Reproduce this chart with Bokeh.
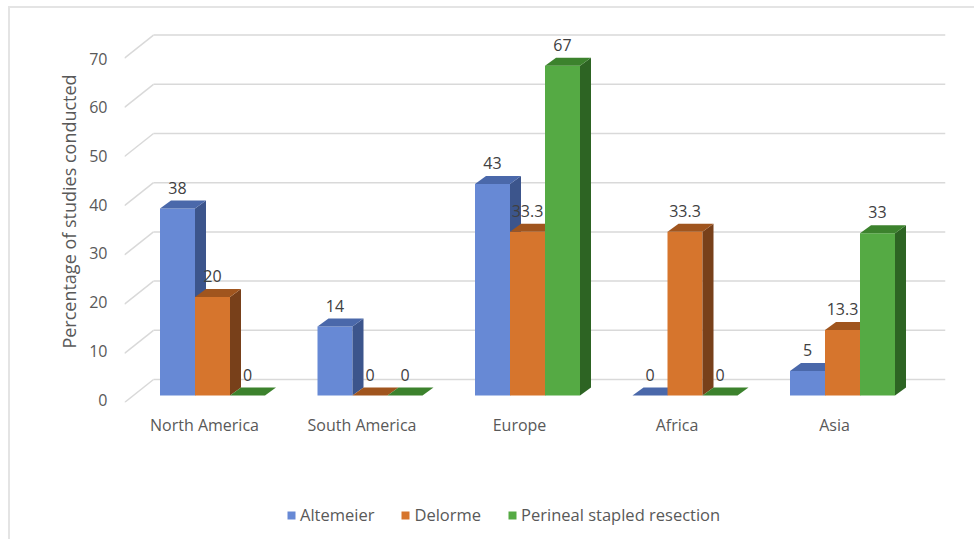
from bokeh.plotting import figure
from bokeh.layouts import column
from bokeh.models import (ColumnDataSource, Range1d, LinearAxis, FixedTicker,
                          Legend, LegendItem)
from bokeh.embed import file_html
from bokeh.resources import INLINE
from bokeh.core.properties import value

# ---------------- data ----------------
regions = ["North America", "South America", "Europe", "Africa", "Asia"]
methods = ["Altemeier", "Delorme", "Perineal stapled resection"]
altemeier = [38, 14, 43, 0, 5]
delorme = [20, 0, 33.3, 33.3, 13.3]
perineal = [0, 0, 67, 0, 33]
y_ticks = [0, 10, 20, 30, 40, 50, 60, 70]
y_title = "Percentage of studies conducted"

# ---------------- style / geometry ----------------
FONT = "Open Sans"
FS = "16px"
LEG_FS = "16.5px"
TITLE_FS = "18px"
TEXT_COLOR = "#595959"
LABEL_COLOR = "#404040"
GRID_COLOR = "#d9d9d9"
BORDER = "2px solid #e4e4e4"
front_colors = ["#6789d5", "#d6752d", "#55aa44"]
top_colors = ["#4a68aa", "#a0551e", "#3c822d"]
side_colors = ["#3c558c", "#78401a", "#2d6423"]

PAGE_W, PAGE_H = 976, 541
CX, CY = 10, 8                 # canvas origin inside the page
W = PAGE_W - CX
LEG_TOP = 462                  # page y where the legend strip starts
FRAME_L, FRAME_R, FRAME_T, FRAME_B = 124, 945, 20, 402   # page px
CAT0_PX, PX_PER_CAT = 204.0, 157.5
BASE_PX, PX_PER_UNIT = 395.0, 4.92
AXIS0_PX, AXIS_PX_PER_UNIT = 399.0, 4.87

GROUP_SHIFT = 8.0 / PX_PER_CAT
BAR_W = 35.0 / PX_PER_CAT
DX = 11.0 / PX_PER_CAT
DY = 8.0 / PX_PER_UNIT
WALL_X0 = (153.0 - CAT0_PX) / PX_PER_CAT
BACK_DY = (BASE_PX - 379.0) / PX_PER_UNIT
FRONT_DY = (402.0 - BASE_PX) / PX_PER_UNIT

x_range = Range1d((FRAME_L - CAT0_PX) / PX_PER_CAT, (FRAME_R - CAT0_PX) / PX_PER_CAT)
y_range = Range1d(-(FRAME_B - BASE_PX) / PX_PER_UNIT, (BASE_PX - FRAME_T) / PX_PER_UNIT)

p = figure(width=W, height=LEG_TOP - CY, x_range=x_range, y_range=y_range,
           output_backend="svg", toolbar_location=None,
           min_border_left=FRAME_L - CX, min_border_right=CX + W - FRAME_R,
           min_border_top=FRAME_T - CY, min_border_bottom=LEG_TOP - FRAME_B,
           x_axis_location=None, y_axis_location=None)
p.styles = {"border-top": BORDER, "border-left": BORDER}
p.margin = (CY - 2, 0, 0, CX - 2)
p.outline_line_color = None
p.xgrid.visible = False
p.ygrid.visible = False
p.background_fill_color = "white"
p.border_fill_color = "white"

# ---------------- gridlines (back wall + floor slants) ----------------
gx_end = x_range.end
grid_src = ColumnDataSource(dict(
    bx0=[WALL_X0] * len(y_ticks), bx1=[gx_end] * len(y_ticks),
    by=[t + BACK_DY for t in y_ticks],
    sx0=[x_range.start] * len(y_ticks),
    sy0=[t - FRONT_DY for t in y_ticks],
))
p.segment(x0="bx0", y0="by", x1="bx1", y1="by", source=grid_src,
          line_color=GRID_COLOR, line_width=1.5)
p.segment(x0="sx0", y0="sy0", x1="bx0", y1="by", source=grid_src,
          line_color=GRID_COLOR, line_width=1.5)

# ---------------- 3D bars ----------------
series = [altemeier, delorme, perineal]
sources = []
for k, vals in enumerate(series):
    x0s = [i + GROUP_SHIFT + (k - 1.5) * BAR_W for i in range(len(regions))]
    centers = [x + BAR_W / 2 for x in x0s]
    src = ColumnDataSource(dict(
        x=centers, top=vals,
        side_xs=[[x + BAR_W, x + BAR_W + DX, x + BAR_W + DX, x + BAR_W] for x in x0s],
        side_ys=[[0, DY, v + DY, v] for v in vals],
        top_xs=[[x, x + BAR_W, x + BAR_W + DX, x + DX] for x in x0s],
        top_ys=[[v, v, v + DY, v + DY] for v in vals],
        label=[f"{v:g}" for v in vals],
    ))
    sources.append(src)
    p.vbar(x="x", top="top", bottom=0, width=BAR_W, source=src,
           fill_color=front_colors[k], line_color=None)
    p.patches(xs="side_xs", ys="side_ys", source=src,
              fill_color=side_colors[k], line_color=None)
    p.patches(xs="top_xs", ys="top_ys", source=src,
              fill_color=top_colors[k], line_color=None)
    p.text(x="x", y="top", text="label", source=src, y_offset=-21,
           text_align="center", text_baseline="middle",
           text_font=value(FONT), text_font_size=FS, text_color=LABEL_COLOR)

# ---------------- axes ----------------
p.extra_y_ranges = {"ax": Range1d(-(FRAME_B - AXIS0_PX) / AXIS_PX_PER_UNIT,
                                  (AXIS0_PX - FRAME_T) / AXIS_PX_PER_UNIT)}
yaxis = LinearAxis(y_range_name="ax", ticker=FixedTicker(ticks=y_ticks),
                   axis_label=y_title)
yaxis.axis_line_color = None
yaxis.major_tick_line_color = None
yaxis.minor_tick_line_color = None
yaxis.major_tick_out = 0
yaxis.major_label_standoff = 17
yaxis.major_label_text_font = FONT
yaxis.major_label_text_font_size = FS
yaxis.major_label_text_color = TEXT_COLOR
yaxis.axis_label_text_font = FONT
yaxis.axis_label_text_font_size = TITLE_FS
yaxis.axis_label_text_font_style = "normal"
yaxis.axis_label_text_color = TEXT_COLOR
yaxis.axis_label_standoff = 5
p.add_layout(yaxis, "left")

xaxis = LinearAxis(ticker=FixedTicker(ticks=list(range(len(regions)))),
                   major_label_overrides={i: r for i, r in enumerate(regions)})
xaxis.axis_line_color = None
xaxis.major_tick_line_color = None
xaxis.minor_tick_line_color = None
xaxis.major_tick_out = 0
xaxis.major_label_standoff = 11
xaxis.major_label_text_font = FONT
xaxis.major_label_text_font_size = FS
xaxis.major_label_text_color = TEXT_COLOR
p.add_layout(xaxis, "below")

# ---------------- legend strip ----------------
LH = PAGE_H - LEG_TOP
lf = figure(width=W, height=LH, x_range=Range1d(0, W), y_range=Range1d(0, LH),
            output_backend="svg", toolbar_location=None, min_border=0,
            x_axis_location=None, y_axis_location=None)
lf.styles = {"border-left": BORDER}
lf.margin = (0, 0, 0, CX - 2)
lf.outline_line_color = None
lf.xgrid.visible = False
lf.ygrid.visible = False
lf.background_fill_color = "white"
lf.border_fill_color = "white"

items = []
for k, m in enumerate(methods):
    # hidden renderer sharing the series data: only its legend swatch is shown
    r = lf.vbar(x="x", top="top", width=1, source=sources[k],
                fill_color=front_colors[k], line_color=None, visible=False)
    items.append(LegendItem(label=m, renderers=[r]))
legend = Legend(items=items, orientation="horizontal",
                location=(286 - FRAME_L, PAGE_H - 528),
                glyph_width=10, glyph_height=10, label_standoff=4, spacing=26,
                padding=0, margin=0, border_line_color=None,
                background_fill_alpha=0, inactive_fill_alpha=0,
                label_text_font=FONT, label_text_font_size=LEG_FS,
                label_text_color=TEXT_COLOR)
lf.add_layout(legend, "center")

layout = column(p, lf, spacing=0)
open("out.html", "w").write(file_html(layout, INLINE))
